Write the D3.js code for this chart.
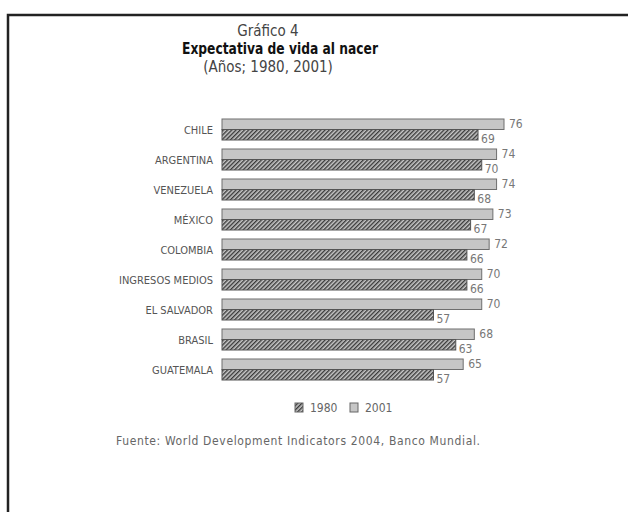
<!DOCTYPE html>
<html>
<head>
<meta charset="utf-8">
<script src="https://cdn.jsdelivr.net/npm/d3@7"></script>
<style>
  body { margin: 0; background: #fff; }
  text { font-family: "DejaVu Sans Condensed", "Liberation Sans Narrow", sans-serif; }
</style>
</head>
<body>
<div id="viz"></div>
<script>
let categories = ['CHILE', 'ARGENTINA', 'VENEZUELA', 'MÉXICO', 'COLOMBIA',
  'INGRESOS MEDIOS', 'EL SALVADOR', 'BRASIL', 'GUATEMALA']
let values1980 = [69, 70, 68, 67, 66, 66, 57, 63, 57]
let values2001 = [76, 74, 74, 73, 72, 70, 70, 68, 65]
let seriesNames = ['1980', '2001']

let svg = d3.select('#viz')
  .append('svg')
  .attr('width', 628)
  .attr('height', 512)

// hatch for 1980
let defs = svg.append('defs')
let pat = defs.append('pattern')
  .attr('id', 'hatch')
  .attr('patternUnits', 'userSpaceOnUse')
  .attr('width', 3)
  .attr('height', 3)
  .attr('patternTransform', 'rotate(45)')
pat.append('rect').attr('width', 3).attr('height', 3).attr('fill', '#c8c8c8')
pat.append('rect').attr('width', 1.4).attr('height', 3).attr('fill', '#3a3a3a')

// frame
svg.append('rect')
  .attr('x', 8)
  .attr('y', 15)
  .attr('width', 640)
  .attr('height', 520)
  .attr('fill', 'none')
  .attr('stroke', '#222')
  .attr('stroke-width', 2.5)

// titles
svg.append('text')
  .attr('x', 268).attr('y', 36)
  .attr('text-anchor', 'middle')
  .attr('font-size', 15)
  .attr('fill', '#444')
  .text('Gráfico 4')
svg.append('text')
  .attr('x', 280).attr('y', 54)
  .attr('text-anchor', 'middle')
  .attr('font-size', 15.5)
  .attr('font-weight', 'bold')
  .attr('textLength', 196)
  .attr('lengthAdjust', 'spacingAndGlyphs')
  .attr('fill', '#111')
  .text('Expectativa de vida al nacer')
svg.append('text')
  .attr('x', 268).attr('y', 72)
  .attr('text-anchor', 'middle')
  .attr('font-size', 15)
  .attr('fill', '#444')
  .text('(Años; 1980, 2001)')

let x = d3.scaleLinear().domain([0, 76]).range([222, 504])
let y = d3.scaleBand().domain(categories).range([114.5, 384.5])
  .paddingInner(0.3).paddingOuter(0.15)
let sub = d3.scaleBand().domain(['2001', '1980']).range([0, y.bandwidth()])

let rows = categories.map((c, i) => ({ cat: c, v1980: values1980[i], v2001: values2001[i] }))

let yAxis = svg.append('g')
  .attr('transform', 'translate(' + x(0) + ',0)')
  .call(d3.axisLeft(y).tickSize(0).tickPadding(9))
yAxis.select('.domain').remove()
yAxis.selectAll('text')
  .attr('font-size', 11)
  .attr('fill', '#555')
  .attr('dy', '0.45em')
  .style('font-family', '"DejaVu Sans Condensed", sans-serif')

let groups = svg.selectAll('.row')
  .data(rows)
  .enter()
  .append('g')
  .attr('transform', d => 'translate(0,' + y(d.cat) + ')')

groups.append('rect')
  .attr('x', x(0))
  .attr('y', sub('2001'))
  .attr('width', d => x(d.v2001) - x(0))
  .attr('height', sub.bandwidth())
  .attr('fill', '#c6c6c6')
  .attr('stroke', '#6e6e6e')
  .attr('stroke-width', 1)

groups.append('rect')
  .attr('x', x(0))
  .attr('y', sub('1980'))
  .attr('width', d => x(d.v1980) - x(0))
  .attr('height', sub.bandwidth())
  .attr('fill', 'url(#hatch)')
  .attr('stroke', '#555')
  .attr('stroke-width', 1)

groups.append('text')
  .attr('x', d => x(d.v2001) + 5)
  .attr('y', sub('2001') + sub.bandwidth() / 2 + 4)
  .attr('font-size', 12)
  .attr('fill', '#777')
  .text(d => d.v2001)

groups.append('text')
  .attr('x', d => x(d.v1980) + 3)
  .attr('y', sub('1980') + sub.bandwidth() / 2 + 8)
  .attr('font-size', 12)
  .attr('fill', '#777')
  .text(d => d.v1980)

// legend
let legend = svg.append('g')
let legX = [295, 350]
seriesNames.forEach((s, i) => {
  legend.append('rect')
    .attr('x', legX[i])
    .attr('y', 403)
    .attr('width', 8)
    .attr('height', 9)
    .attr('fill', s === '1980' ? 'url(#hatch)' : '#c6c6c6')
    .attr('stroke', '#666')
  legend.append('text')
    .attr('x', legX[i] + 15)
    .attr('y', 412)
    .attr('font-size', 12)
    .attr('fill', '#666')
    .text(s)
})

svg.append('text')
  .attr('x', 116)
  .attr('y', 445)
  .attr('font-size', 12)
  .attr('textLength', 364)
  .attr('lengthAdjust', 'spacing')
  .attr('fill', '#666')
  .text('Fuente: World Development Indicators 2004, Banco Mundial.')
</script>
</body>
</html>
